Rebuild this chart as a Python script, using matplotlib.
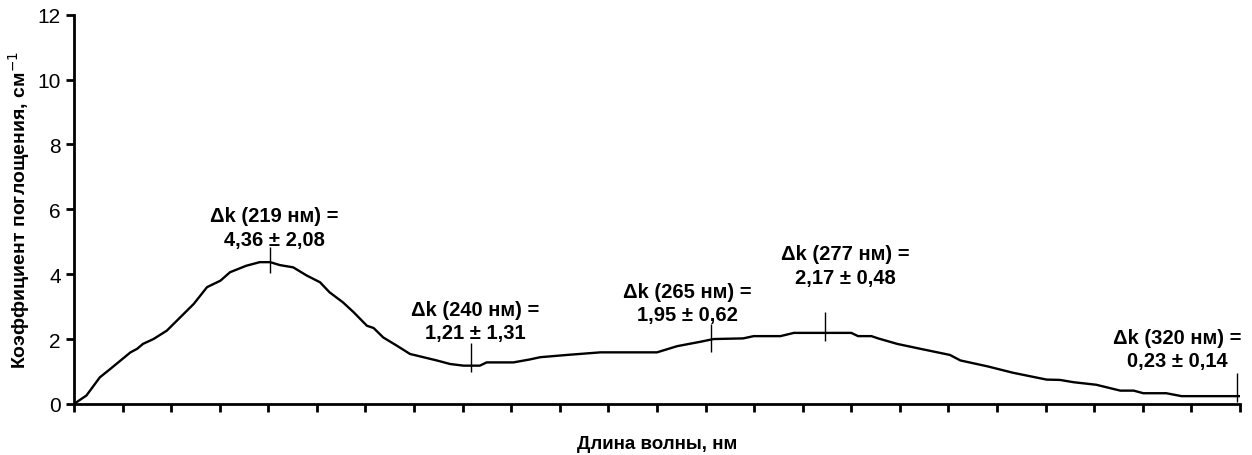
import numpy as np
import matplotlib
matplotlib.use("Agg")
import matplotlib.pyplot as plt

plt.rcParams['font.family'] = ['Liberation Sans', 'DejaVu Sans']

# -- Data --
wavelength = [198.5, 199.8, 201.2, 202.3, 204.4, 205.1, 205.7, 206.8, 208.2, 209.6,
              211.0, 211.7, 212.4, 213.8, 214.8, 216.5, 217.9, 219.0, 220.0, 221.4,
              222.8, 224.2, 225.2, 226.6, 227.7, 229.1, 229.8, 230.8, 232.2, 233.6,
              235.0, 236.4, 237.8, 239.2, 240.9, 241.6, 244.4, 246.1, 247.2, 250.0,
              253.5, 259.4, 261.5, 264.0, 265.3, 268.4, 269.5, 272.3, 273.7, 279.7,
              280.4, 281.8, 282.5, 284.5, 286.9, 290.0, 291.1, 293.9, 296.6, 300.1,
              301.5, 302.9, 305.3, 307.8, 309.2, 310.2, 312.6, 314.2, 320.3]
absorption = [0.00, 0.26, 0.82, 1.08, 1.59, 1.70, 1.85, 2.00, 2.26, 2.67,
              3.08, 3.34, 3.60, 3.80, 4.06, 4.26, 4.37, 4.37, 4.28, 4.21,
              3.96, 3.75, 3.44, 3.13, 2.83, 2.41, 2.34, 2.05, 1.80, 1.54,
              1.44, 1.34, 1.23, 1.18, 1.18, 1.28, 1.28, 1.37, 1.44, 1.51,
              1.59, 1.59, 1.78, 1.92, 2.00, 2.02, 2.09, 2.09, 2.19, 2.19,
              2.09, 2.09, 2.02, 1.85, 1.70, 1.51, 1.34, 1.16, 0.96, 0.75,
              0.74, 0.67, 0.59, 0.41, 0.41, 0.33, 0.33, 0.24, 0.24]

# marked wavelengths with delta-k and its spread
mark_wl = [219, 240, 265, 277, 320]
mark_k = [4.37, 1.18, 2.00, 2.17, 0.24]
mark_lo = [4.04, 0.97, 1.61, 1.93, 0.07]
mark_hi = [4.84, 1.87, 2.47, 2.83, 0.96]
dk_mean = ["4,36", "1,21", "1,95", "2,17", "0,23"]
dk_err = ["2,08", "1,31", "0,62", "0,48", "0,14"]

# label offsets from the marked point, in points
label_offsets = [(3, 25), (3, 32), (-17, 26), (14, 49), (-43, 34)]

fig = plt.figure(figsize=(12.52, 4.56), dpi=100)
ax = fig.add_axes([0.0591, 0.112, 0.9313, 0.8537])

ax.plot(wavelength, absorption, color='black', lw=1.7)
ax.vlines(mark_wl, mark_lo, mark_hi, color='black', lw=1.0)

for wl, k, m, e, off in zip(mark_wl, mark_k, dk_mean, dk_err, label_offsets):
    ax.annotate(f"\u0394k ({wl} нм) =\n{m} \u00b1 {e}", xy=(wl, k),
                xytext=off, textcoords='offset points',
                ha='center', va='center', fontsize=14.5, fontweight='bold',
                linespacing=1.3)

ax.set_xlim(198.5, 320.3)
ax.set_ylim(0, 12)
ax.set_xticks(np.linspace(198.5, 320.3, 25))
ax.set_xticklabels([])
ax.set_yticks(np.arange(0, 13, 2))
ax.tick_params(axis='y', labelsize=15, direction='out', length=6, width=2)
ax.tick_params(axis='x', direction='out', length=6, width=2)

for side in ('top', 'right'):
    ax.spines[side].set_visible(False)
for side in ('left', 'bottom'):
    ax.spines[side].set_linewidth(2)

ax.set_xlabel("Длина волны, нм", fontsize=13.5, fontweight='bold', labelpad=13)
ax.set_ylabel("Коэффициент поглощения, см$^{-1}$", fontsize=14, fontweight='bold',
              labelpad=4)

fig.savefig("out.png", dpi=100)
